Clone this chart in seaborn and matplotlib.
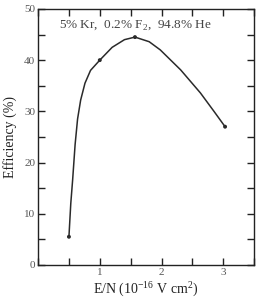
import matplotlib
matplotlib.use("Agg")
import matplotlib.pyplot as plt
import seaborn as sns
import pandas as pd
from matplotlib.ticker import MultipleLocator

sns.set_style("white")
plt.rcParams['font.family'] = ['Liberation Serif', 'DejaVu Serif']
plt.rcParams['mathtext.fontset'] = 'custom'
plt.rcParams['mathtext.rm'] = 'Liberation Serif'

# measured points
pt_en = [0.5, 1.0, 1.57, 3.03]
pt_eff = [5.5, 40.0, 44.5, 27.0]

# traced smooth curve through the points
curve_en = [0.5, 0.53, 0.56, 0.60, 0.64, 0.69, 0.76, 0.85, 1.0, 1.2, 1.4, 1.57, 1.8, 1.98, 2.31, 2.63, 2.85, 3.03]
curve_eff = [5.5, 12.0, 16.6, 23.5, 28.5, 32.2, 35.5, 38.0, 40.0, 42.5, 44.0, 44.5, 43.6, 42.0, 38.1, 33.6, 30.0, 27.0]

title_text = "5% Kr,  0.2% F$_2$,  94.8% He"
xlabel = "E/N (10$^{-16}$ V cm$^{2}$)"
ylabel = "Efficiency (%)"

df_c = pd.DataFrame({"en": curve_en, "eff": curve_eff})
df_p = pd.DataFrame({"en": pt_en, "eff": pt_eff})

fig = plt.figure(figsize=(2.59, 2.98), dpi=100)
ax = fig.add_axes([0.147, 0.111, 0.834, 0.859])

sns.lineplot(data=df_c, x="en", y="eff", ax=ax, color="#2a2a2a", linewidth=1.1, sort=False)
sns.scatterplot(data=df_p, x="en", y="eff", ax=ax, color="#2a2a2a", s=8, edgecolor="none", zorder=3)

ax.set_xlim(0, 3.5)
ax.set_ylim(0, 50)
ax.xaxis.set_minor_locator(MultipleLocator(0.5))
ax.yaxis.set_major_locator(MultipleLocator(10))
ax.yaxis.set_minor_locator(MultipleLocator(5))
ax.set_xticks([1, 2, 3])
ax.set_xticklabels(["1", "2", "3"])
ax.tick_params(which="both", direction="in", top=True, right=True, bottom=True, left=True,
               labelsize=8, labelcolor="#555555", color="#222222", pad=2)
ax.tick_params(which="both", length=5, width=1)
for s in ax.spines.values():
    s.set_color("#222222")
    s.set_linewidth(1.0)

ax.text(1.58, 46.8, title_text, ha="center", va="center", fontsize=9.5, color="#444444")
ax.set_xlabel(xlabel, fontsize=10, color="#222222", labelpad=2)
ax.set_ylabel(ylabel, fontsize=10, color="#222222", labelpad=5)

fig.savefig("out.png", dpi=100)
